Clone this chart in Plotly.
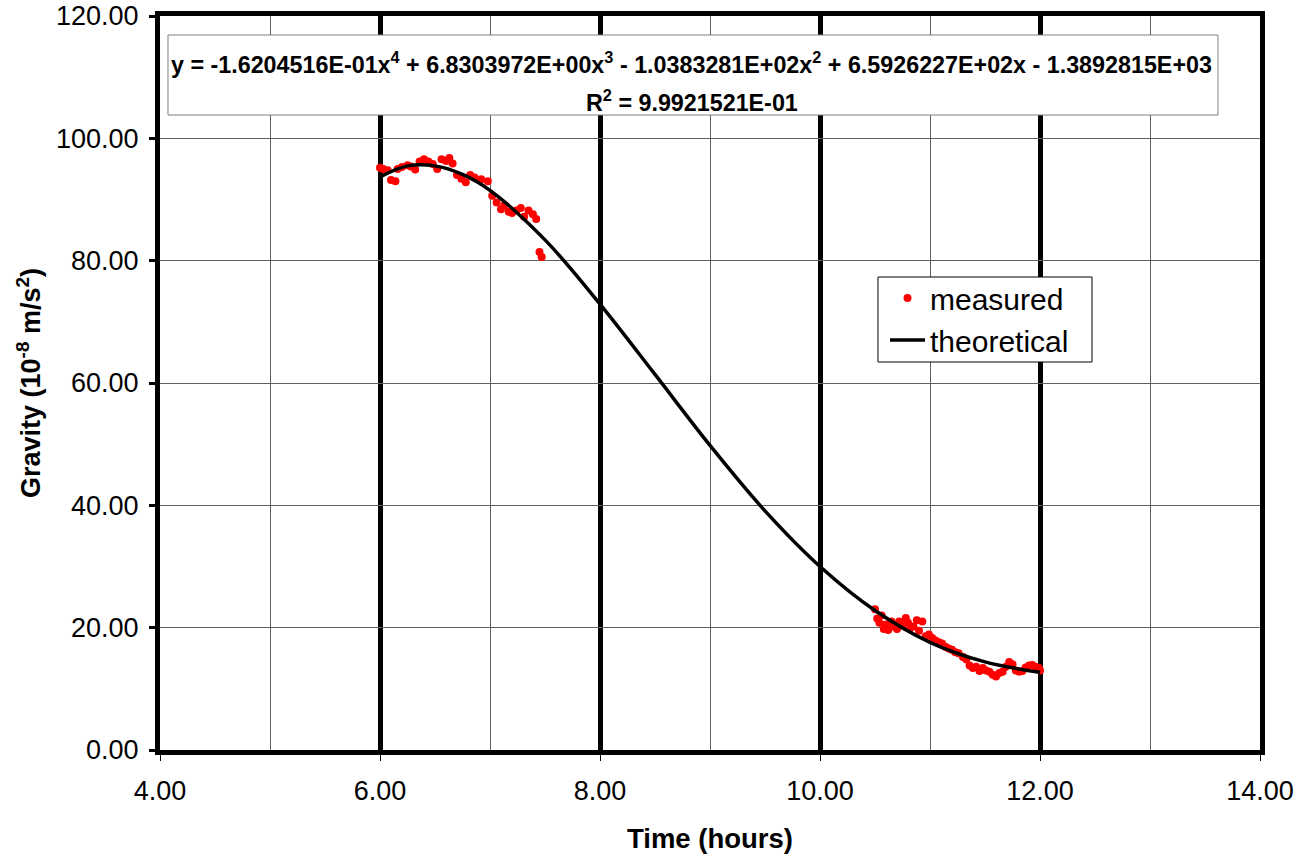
import plotly.graph_objects as go

# Measured gravity
meas_t = [6.00, 6.03, 6.07, 6.10, 6.14, 6.16, 6.20, 6.25, 6.28, 6.32, 6.36, 6.40, 6.44, 6.48,
          6.52, 6.56, 6.60, 6.63, 6.66, 6.70, 6.74, 6.78, 6.82, 6.86, 6.92, 6.98, 7.02, 7.06,
          7.10, 7.13, 7.17, 7.20, 7.24, 7.28, 7.31, 7.35, 7.39, 7.42, 7.45, 7.47,
          10.50, 10.52, 10.54, 10.56, 10.58, 10.60, 10.62, 10.65, 10.67, 10.70, 10.72, 10.75,
          10.78, 10.80, 10.82, 10.85, 10.88, 10.90, 10.93, 10.96, 10.99, 11.02, 11.05, 11.08,
          11.11, 11.14, 11.17, 11.20, 11.23, 11.26, 11.30, 11.33, 11.36, 11.39, 11.42, 11.45,
          11.48, 11.51, 11.54, 11.57, 11.60, 11.63, 11.66, 11.69, 11.72, 11.75, 11.78, 11.81,
          11.84, 11.87, 11.90, 11.93, 11.96, 11.99, 12.00]
meas_g = [95.2, 95.0, 94.8, 93.2, 93.0, 95.0, 95.3, 95.6, 95.4, 94.9, 96.2, 96.6, 96.2, 95.8,
          95.0, 96.6, 96.3, 96.8, 95.9, 94.0, 93.4, 92.8, 94.0, 93.6, 93.3, 93.0, 90.6, 89.5,
          88.4, 89.0, 88.0, 87.8, 88.2, 88.6, 87.2, 88.2, 87.6, 86.8, 81.4, 80.6,
          23.0, 21.5, 20.8, 22.0, 19.8, 20.5, 19.6, 21.0, 20.2, 19.8, 21.0, 20.4,
          21.6, 20.8, 19.9, 20.2, 21.2, 19.5, 21.0, 18.6, 18.9, 18.3, 17.9, 17.6,
          17.4, 16.9, 16.6, 16.4, 16.0, 15.8, 15.2, 14.8, 13.8, 13.4, 13.6, 12.9,
          13.4, 13.0, 12.8, 12.3, 12.0, 12.6, 12.8, 13.6, 14.4, 14.0, 13.0, 12.8,
          12.9, 13.5, 13.8, 13.9, 13.6, 13.4, 13.0]

# Theoretical curve
theo_t = [6.00, 6.25, 6.50, 6.75, 7.00, 7.50, 8.00, 8.50, 9.00, 9.50, 10.00, 10.50, 11.00, 11.50, 12.00]
theo_g = [93.7, 95.5, 95.5, 94.1, 91.5, 83.4, 72.9, 61.4, 49.8, 39.1, 30.0, 22.8, 17.6, 14.4, 12.7]

x_ticks = [4, 6, 8, 10, 12, 14]
x_labels = ["4.00", "6.00", "8.00", "10.00", "12.00", "14.00"]
y_ticks = [0, 20, 40, 60, 80, 100, 120]
y_labels = ["0.00", "20.00", "40.00", "60.00", "80.00", "100.00", "120.00"]

eq_line1 = ("<b>y = -1.6204516E-01x<sup>4</sup> + 6.8303972E+00x<sup>3</sup> - 1.0383281E+02x<sup>2</sup>"
            " + 6.5926227E+02x - 1.3892815E+03</b>")
eq_line2 = "<b>R<sup>2</sup> = 9.9921521E-01</b>"

FONT = "Liberation Sans, Arial, sans-serif"

fig = go.Figure()
fig.add_trace(go.Scatter(x=meas_t, y=meas_g, mode="markers", name="measured",
                         marker=dict(color="#ff0000", size=8)))
fig.add_trace(go.Scatter(x=theo_t, y=theo_g, mode="lines", name="theoretical",
                         line=dict(color="black", width=3.5, shape="spline")))

fig.update_layout(
    width=1303, height=854,
    margin=dict(l=160, r=43, t=16, b=104, autoexpand=False),
    paper_bgcolor="white", plot_bgcolor="white",
    font=dict(family=FONT, size=27, color="black"),
    showlegend=True,
    legend=dict(x=0.6591, y=0.6512, xanchor="left", yanchor="top",
                bgcolor="rgba(0,0,0,0)", borderwidth=0,
                font=dict(size=30, family=FONT), tracegroupgap=0, itemwidth=35),
    shapes=[
        dict(type="rect", xref="paper", yref="paper", x0=0.00727, x1=0.9618, y0=0.8651, y1=0.9741,
             line=dict(color="#808080", width=1), fillcolor="white", layer="above"),
        dict(type="rect", xref="paper", yref="paper", x0=0.6527, x1=0.8473, y0=0.5286, y1=0.6444,
             line=dict(color="black", width=1), fillcolor="white", layer="above"),
    ],
    annotations=[
        dict(xref="paper", yref="paper", x=0.4832, y=0.9360, xanchor="center", yanchor="middle",
             text=eq_line1, showarrow=False, font=dict(family=FONT, size=23.3, color="black")),
        dict(xref="paper", yref="paper", x=0.4832, y=0.8842, xanchor="center", yanchor="middle",
             text=eq_line2, showarrow=False, font=dict(family=FONT, size=23.3, color="black")),
    ],
)

fig.update_xaxes(
    range=[4, 14], tickvals=x_ticks, ticktext=x_labels, automargin=False,
    showline=True, linecolor="black", linewidth=5, mirror=True,
    ticks="outside", ticklen=6, tickwidth=1, tickcolor="black", ticklabelstandoff=7,
    showgrid=True, gridcolor="black", gridwidth=5,
    minor=dict(dtick=1, showgrid=True, gridcolor="#606060", gridwidth=1, ticks=""),
    zeroline=False,
    title=dict(text="<b>Time (hours)</b>", font=dict(size=27.5, family=FONT), standoff=28),
)
fig.update_yaxes(
    range=[0, 120], tickvals=y_ticks, ticktext=y_labels, automargin=False,
    showline=True, linecolor="black", linewidth=5, mirror=True,
    ticks="outside", ticklen=6, tickwidth=3, tickcolor="black", ticklabelstandoff=5,
    showgrid=True, gridcolor="#606060", gridwidth=1,
    zeroline=False,
    title=dict(text="<b>Gravity (10<sup>-8</sup> m/s<sup>2</sup>)</b>",
               font=dict(size=27, family=FONT), standoff=9),
)

fig.write_html("out.html")
